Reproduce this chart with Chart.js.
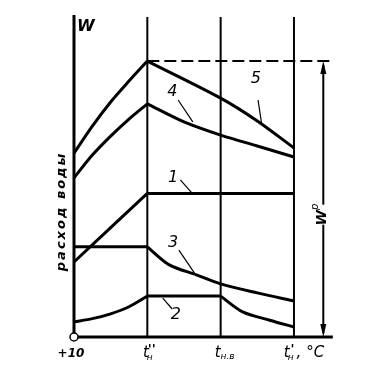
<!DOCTYPE html>
<html>
<head>
<meta charset="utf-8">
<script src="https://cdn.jsdelivr.net/npm/chart.js@4/dist/chart.umd.min.js"></script>
<style>
  body { margin: 0; background: #fff; }
  #wrap { width: 377px; height: 369px; }
</style>
</head>
<body>
<div id="wrap"><canvas id="waterChart" width="377" height="369"></canvas></div>
<script>
// temperature points along the bottom axis: +10, t_н'', t_н.в, t_н'
const tempPoints = [0, 1, 2, 3];

// water consumption curves (relative units)
const curve1 = [[0, 23.3], [1, 44.6], [3, 44.6]];
const curve2 = [[0, 4.7], [0.25, 5.7], [0.5, 7.2], [0.75, 9.4], [1, 12.7], [2, 12.7], [2.3, 7.8], [2.67, 5.2], [3, 3.1]];
const curve3 = [[0, 28.0], [1, 28.0], [1.3, 22.4], [1.67, 19.3], [2, 16.5], [2.5, 13.7], [3, 11.2]];
const curve4 = [[0, 49.4], [0.25, 56.5], [0.5, 62.4], [0.75, 67.7], [1, 72.4], [1.5, 66.8], [2, 62.7], [2.5, 59.3], [3, 55.9]];
const curve5 = [[0, 57.1], [0.25, 65.5], [0.5, 73.0], [0.75, 79.5], [1, 85.7], [2, 74.2], [2.5, 67.1], [3, 58.7]];
const curveNames = ['1', '2', '3', '4', '5'];

const peakW = 85.7; // W^p level, the peak of curve 5

function line(ctx, x1, y1, x2, y2) {
    ctx.beginPath();
    ctx.moveTo(x1, y1);
    ctx.lineTo(x2, y2);
    ctx.stroke();
}

// draws text pieces one after another, each with its own font and vertical shift
function drawRich(ctx, cx, baseY, parts) {
    let total = 0;
    parts.forEach(p => { ctx.font = p.font; total += ctx.measureText(p.t).width + (p.gap || 0); });
    let px = cx - total / 2;
    parts.forEach(p => {
        ctx.font = p.font;
        ctx.fillText(p.t, px, baseY + (p.dy || 0));
        px += ctx.measureText(p.t).width + (p.gap || 0);
    });
}

const F = '"DejaVu Sans"';

const drawingPlugin = {
    id: 'drawing',
    beforeDatasetsDraw(chart) {
        const { ctx, scales: { x, y } } = chart;
        const x0 = x.getPixelForValue(0);
        const yb = y.getPixelForValue(0);
        const yt = y.getPixelForValue(100);
        ctx.save();
        ctx.strokeStyle = '#000';
        // vertical lines at the temperatures
        ctx.lineWidth = 2;
        tempPoints.slice(1).forEach(t => {
            const px = x.getPixelForValue(t);
            line(ctx, px, yt + 2, px, yb);
        });
        // axes
        ctx.lineWidth = 3;
        line(ctx, x0, yt, x0, yb);
        line(ctx, x0, yb, x.getPixelForValue(3.53), yb);
        ctx.restore();
    },
    afterDatasetsDraw(chart) {
        const { ctx, scales: { x, y } } = chart;
        const X = v => x.getPixelForValue(v);
        const Y = v => y.getPixelForValue(v);
        ctx.save();
        ctx.fillStyle = '#000';
        ctx.strokeStyle = '#000';

        // open circle at origin
        ctx.beginPath();
        ctx.arc(X(0), Y(0), 4, 0, Math.PI * 2);
        ctx.fillStyle = '#fff';
        ctx.fill();
        ctx.lineWidth = 1.5;
        ctx.stroke();
        ctx.fillStyle = '#000';

        // dimension line W^p
        const dx = X(3.40), dTop = Y(peakW), dBot = Y(0);
        ctx.lineWidth = 2;
        line(ctx, dx, dTop + 4, dx, dBot - 4);
        [[dTop, 1], [dBot, -1]].forEach(([py, s]) => {
            ctx.beginPath();
            ctx.moveTo(dx, py);
            ctx.lineTo(dx - 3, py + s * 13);
            ctx.lineTo(dx + 3, py + s * 13);
            ctx.closePath();
            ctx.fill();
        });
        ctx.save();
        ctx.translate(dx - 3, Y(38));
        ctx.rotate(-Math.PI / 2);
        ctx.fillStyle = '#fff';
        ctx.fillRect(-10, -4, 20, 10);
        ctx.fillStyle = '#000';
        ctx.textAlign = 'left';
        ctx.textBaseline = 'alphabetic';
        drawRich(ctx, 0, 6, [
            { t: 'W', font: 'italic bold 14px ' + F },
            { t: 'р', font: 'italic 10px ' + F, dy: -8 }
        ]);
        ctx.restore();

        // curve numbers with leader lines
        const tags = [
            { n: 0, tx: 1.35, ty: 49.4, l: [1.45, 48.8, 1.61, 44.7] },
            { n: 1, tx: 1.39, ty: 7.0, l: [1.21, 12.1, 1.34, 8.7] },
            { n: 2, tx: 1.35, ty: 29.2, l: [1.43, 27.0, 1.66, 19.3] },
            { n: 3, tx: 1.34, ty: 76.1, l: [1.42, 73.6, 1.62, 66.8] },
            { n: 4, tx: 2.48, ty: 80.1, l: [2.51, 73.6, 2.56, 66.1] }
        ];
        ctx.font = 'italic 16px ' + F;
        ctx.textAlign = 'center';
        ctx.textBaseline = 'middle';
        ctx.lineWidth = 1.2;
        tags.forEach(tg => {
            ctx.fillText(curveNames[tg.n], X(tg.tx), Y(tg.ty));
            line(ctx, X(tg.l[0]), Y(tg.l[1]), X(tg.l[2]), Y(tg.l[3]));
        });

        // W at the top of the axis
        ctx.font = 'italic bold 16px ' + F;
        ctx.fillText('W', X(0.16), Y(96.3));

        // axis title, vertical
        ctx.save();
        ctx.translate(X(0) - 12, Y(39));
        ctx.rotate(-Math.PI / 2);
        ctx.font = 'italic bold 13px ' + F;
        ctx.letterSpacing = '2px';
        ctx.fillText('расход воды', 0, 0);
        ctx.restore();

        // bottom tick labels
        ctx.textAlign = 'left';
        ctx.textBaseline = 'alphabetic';
        const by = Y(0) + 20;
        const big = 'italic 15px ' + F, sub = 'italic 9px ' + F, prime = 'italic bold 13px ' + F;
        drawRich(ctx, X(0) - 3, by, [{ t: '+10', font: 'italic bold 12px ' + F }]);
        drawRich(ctx, X(1) + 2, by, [
            { t: 't', font: big, gap: -2 },
            { t: 'н', font: sub, dy: 3, gap: -5 },
            { t: "''", font: prime, dy: -4 }
        ]);
        drawRich(ctx, X(2) + 4, by, [
            { t: 't', font: big },
            { t: 'н.в', font: sub, dy: 2 }
        ]);
        drawRich(ctx, X(3) + 10, by, [
            { t: 't', font: big, gap: -2 },
            { t: 'н', font: sub, dy: 3, gap: -3 },
            { t: "'", font: prime, dy: -4, gap: 2 },
            { t: ', °C', font: big }
        ]);
        ctx.restore();
    }
};

// split a curve at its kinks so each smooth piece can be drawn with tension
function pieces(arr, kinks) {
    const cuts = [arr[0][0], ...kinks, arr[arr.length - 1][0]];
    const out = [];
    for (let i = 0; i < cuts.length - 1; i++) {
        out.push(arr.filter(p => p[0] >= cuts[i] && p[0] <= cuts[i + 1]).map(p => ({ x: p[0], y: p[1] })));
    }
    return out;
}

function curveSets(data, kinks, name) {
    return pieces(data, kinks).map(part => ({
        label: name,
        data: part,
        borderColor: '#000',
        borderWidth: 3,
        pointRadius: 0,
        tension: 0.3,
        fill: false
    }));
}

function createWaterChart() {
    const ctx = document.getElementById('waterChart').getContext('2d');
    new Chart(ctx, {
        type: 'line',
        data: {
            datasets: [
                ...curveSets(curve1, [1], curveNames[0]),
                ...curveSets(curve2, [1, 2], curveNames[1]),
                ...curveSets(curve3, [1], curveNames[2]),
                ...curveSets(curve4, [1], curveNames[3]),
                ...curveSets(curve5, [1], curveNames[4]),
                {
                    label: 'Wp',
                    data: [{ x: 1, y: peakW }, { x: 3.53, y: peakW }],
                    borderColor: '#000',
                    borderWidth: 2,
                    borderDash: [12, 5],
                    pointRadius: 0
                }
            ]
        },
        options: {
            responsive: false,
            animation: false,
            layout: { padding: { left: 74, right: 42.7, top: 15, bottom: 32 } },
            scales: {
                x: { type: 'linear', min: 0, max: 3.55, display: false },
                y: { type: 'linear', min: 0, max: 100, display: false }
            },
            plugins: {
                legend: { display: false },
                tooltip: { enabled: false }
            }
        },
        plugins: [drawingPlugin]
    });
}

createWaterChart();
</script>
</body>
</html>
